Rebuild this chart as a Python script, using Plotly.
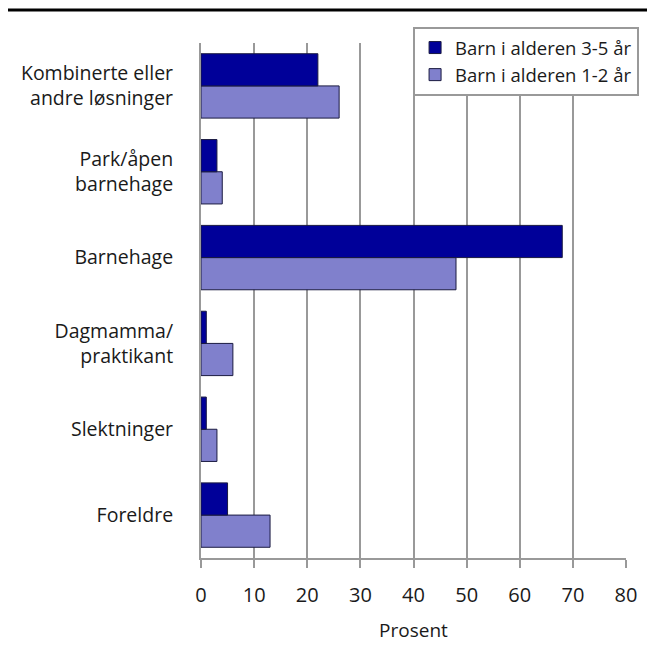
import plotly.graph_objects as go

categories = ["Kombinerte eller<br>andre løsninger", "Park/åpen<br>barnehage", "Barnehage",
              "Dagmamma/<br>praktikant", "Slektninger", "Foreldre"]
age_3_5 = [22, 3, 68, 1, 1, 5]
age_1_2 = [26, 4, 48, 6, 3, 13]
series_names = ["Barn i alderen 3-5 år", "Barn i alderen 1-2 år"]
x_ticks = [0, 10, 20, 30, 40, 50, 60, 70, 80]

cats_rev = categories[::-1]

fig = go.Figure()
fig.add_trace(go.Bar(y=cats_rev, x=age_1_2[::-1], orientation="h", name=series_names[1],
                     marker=dict(color="#8080CC", line=dict(color="#1a1a40", width=1)),
                     legendrank=2))
fig.add_trace(go.Bar(y=cats_rev, x=age_3_5[::-1], orientation="h", name=series_names[0],
                     marker=dict(color="#000099", line=dict(color="#1a1a40", width=1)),
                     legendrank=1))

fig.update_layout(
    width=647, height=643,
    margin=dict(l=193, r=29, t=35, b=93, autoexpand=False),
    paper_bgcolor="white", plot_bgcolor="white",
    font=dict(family="Open Sans, DejaVu Sans, sans-serif", size=20, color="#1a1a1a"),
    barmode="group", bargap=0.25, bargroupgap=0,
    xaxis=dict(range=[0, 80], tickvals=x_ticks, showgrid=True, gridcolor="#999999", gridwidth=2,
               showline=True, linecolor="#999999", linewidth=2, ticks="outside", ticklen=8,
               tickcolor="#999999", tickwidth=2, zeroline=False, ticklabelstandoff=10,
               title=dict(text="Prosent", font=dict(size=19), standoff=17),
               tickfont=dict(size=20)),
    yaxis=dict(categoryorder="array", categoryarray=cats_rev, showline=True, linecolor="#999999",
               linewidth=2, ticks="", ticklabelstandoff=22, showgrid=False,
               tickfont=dict(size=19.5)),
    legend=dict(x=0.499, y=1.031, xanchor="left", yanchor="top", bgcolor="white",
                bordercolor="#999999", borderwidth=2, font=dict(size=18.5),
                traceorder="normal", itemclick=False, tracegroupgap=0, itemwidth=30),
    shapes=[dict(type="line", xref="paper", yref="paper", x0=-0.456, x1=1.052, y0=1.064, y1=1.064,
                 line=dict(color="black", width=3))],
    showlegend=True,
)

fig.write_html("out.html")
